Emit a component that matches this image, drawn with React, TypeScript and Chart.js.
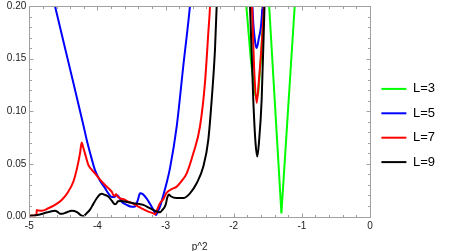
import React, { useEffect, useRef } from "react";
import { Chart, registerables } from "chart.js";

Chart.register(...registerables);

// ---------- data (p^2 on x, value on y) ----------
const SERIES_LABELS = ["L=3", "L=5", "L=7", "L=9"];

const L3_P = [-5, -2.5, -1.86, -1.815, -1.75, -1.69, -1.665, -1.64, -1.6, -1.56, -1.52, -1.48, -1.3, -1.105, -1.05, 0];
const L3_V = [1, 1, 0.3, 0.2, 0.15, 0.117, 0.112, 0.117, 0.15, 0.2, 0.3, 0.2, 0.003, 0.2, 0.3, 1];

const L5_P = [-5, -4.623, -4.42, -4.207, -4.158, -4.085, -4.036, -3.962, -3.889, -3.84, -3.79, -3.75, -3.717, -3.69, -3.644, -3.57, -3.497, -3.45, -3.41, -3.375, -3.33, -3.277, -3.204, -3.16, -3.14, -3.12, -3.082, -3.03, -2.984, -2.935, -2.837, -2.74, -2.642, -2.55, -2.2, -1.76, -1.725, -1.69, -1.663, -1.635, -1.58, -1.54, 0];
const L5_V = [0.31, 0.2, 0.145, 0.087, 0.073, 0.055, 0.044, 0.034, 0.027, 0.022, 0.0185, 0.0185, 0.0205, 0.019, 0.014, 0.011, 0.0093, 0.0095, 0.015, 0.022, 0.021, 0.017, 0.0093, 0.004, 0.0014, 0.004, 0.0093, 0.021, 0.032, 0.046, 0.0855, 0.143, 0.2, 0.27, 0.6, 0.3, 0.2, 0.168, 0.16, 0.168, 0.2, 0.3, 1];

const L7_P = [-5, -4.93, -4.895, -4.89, -4.87, -4.818, -4.72, -4.623, -4.525, -4.428, -4.354, -4.305, -4.256, -4.231, -4.215, -4.183, -4.134, -4.085, -4.036, -3.962, -3.889, -3.84, -3.791, -3.755, -3.725, -3.705, -3.669, -3.6, -3.547, -3.47, -3.4, -3.33, -3.254, -3.18, -3.155, -3.12, -3.082, -3.033, -2.984, -2.91, -2.837, -2.76, -2.69, -2.593, -2.495, -2.422, -2.373, -2.348, -2.3, -2.0, -1.77, -1.732, -1.7, -1.663, -1.63, -1.556, -1.5, 0];
const L7_V = [0.0008, 0.001, 0.0014, 0.0062, 0.0056, 0.0055, 0.0078, 0.011, 0.0157, 0.0236, 0.033, 0.0443, 0.06, 0.0703, 0.067, 0.06, 0.049, 0.0445, 0.041, 0.035, 0.03, 0.027, 0.0236, 0.0195, 0.0212, 0.019, 0.0173, 0.016, 0.014, 0.012, 0.0093, 0.007, 0.0046, 0.003, 0.002, 0.007, 0.0126, 0.0165, 0.0227, 0.026, 0.0284, 0.034, 0.041, 0.06, 0.0855, 0.127, 0.1745, 0.2, 0.3, 0.6, 0.3, 0.2, 0.14, 0.108, 0.13, 0.2, 0.3, 1];

const L9_P = [-5, -4.9, -4.818, -4.75, -4.696, -4.623, -4.58, -4.55, -4.52, -4.45, -4.378, -4.3, -4.25, -4.207, -4.16, -4.109, -4.06, -4.01, -3.962, -3.937, -3.89, -3.84, -3.79, -3.742, -3.72, -3.7, -3.645, -3.55, -3.474, -3.4, -3.327, -3.25, -3.18, -3.12, -3.082, -3.05, -3.0, -2.975, -2.955, -2.93, -2.84, -2.74, -2.642, -2.544, -2.446, -2.373, -2.323, -2.275, -2.25, -2.2, -2.0, -1.8, -1.761, -1.713, -1.68, -1.654, -1.63, -1.59, -1.548, -1.5, 0];
const L9_V = [0.0005, 0.0012, 0.0024, 0.0038, 0.0046, 0.0055, 0.0042, 0.0026, 0.0025, 0.004, 0.0055, 0.0042, 0.0015, 0.0002, 0.003, 0.0065, 0.012, 0.0173, 0.021, 0.0215, 0.0205, 0.019, 0.015, 0.0116, 0.0125, 0.0145, 0.0148, 0.0135, 0.0126, 0.012, 0.011, 0.0085, 0.0062, 0.0045, 0.004, 0.006, 0.011, 0.018, 0.021, 0.0195, 0.0175, 0.0175, 0.022, 0.0316, 0.0474, 0.0729, 0.111, 0.1586, 0.2, 0.3, 0.6, 0.3, 0.2, 0.111, 0.07, 0.057, 0.07, 0.111, 0.2, 0.3, 1];

const X_MIN = -5;
const X_MAX = 0;
const Y_MIN = 0;
const Y_MAX = 0.2;
const X_MAJOR = 1;
const X_MINOR = 0.2;
const Y_MAJOR = 0.05;
const Y_MINOR = 0.01;
const X_TITLE = "p^2";

// ---------- style ----------
const COLORS = ["#00ff00", "#0000ff", "#ff0000", "#000000"];
const FRAME = "#a0a0a0";
const FONT = "'Liberation Sans', Arial, sans-serif";

const frameTicks = {
  id: "frameTicks",
  afterDatasetsDraw(chart: any) {
    const { ctx, chartArea } = chart;
    const xs = chart.scales.x;
    const ys = chart.scales.y;
    const l = Math.round(chartArea.left) + 0.5;
    const r = Math.round(chartArea.right) + 0.5;
    const t = Math.round(chartArea.top) + 0.5;
    const b = Math.round(chartArea.bottom) + 0.5;
    ctx.save();
    ctx.strokeStyle = FRAME;
    ctx.lineWidth = 1;
    ctx.beginPath();
    ctx.rect(l, t, r - l, b - t);
    const nx = Math.round((X_MAX - X_MIN) / X_MINOR);
    const perX = Math.round(X_MAJOR / X_MINOR);
    for (let i = 0; i <= nx; i++) {
      const px = Math.round(xs.getPixelForValue(X_MIN + i * X_MINOR)) + 0.5;
      const len = i % perX === 0 ? 4 : 2.5;
      ctx.moveTo(px, b);
      ctx.lineTo(px, b - len);
      ctx.moveTo(px, t);
      ctx.lineTo(px, t + len);
    }
    const ny = Math.round((Y_MAX - Y_MIN) / Y_MINOR);
    const perY = Math.round(Y_MAJOR / Y_MINOR);
    for (let i = 0; i <= ny; i++) {
      const py = Math.round(ys.getPixelForValue(Y_MIN + i * Y_MINOR)) + 0.5;
      const len = i % perY === 0 ? 4 : 2.5;
      ctx.moveTo(l, py);
      ctx.lineTo(l + len, py);
      ctx.moveTo(r, py);
      ctx.lineTo(r - len, py);
    }
    ctx.stroke();
    ctx.restore();
  },
};

function makeDataset(i: number, P: number[], V: number[], straight: boolean) {
  return {
    label: SERIES_LABELS[i],
    data: P.map((p, k) => ({ x: p, y: V[k] })),
    borderColor: COLORS[i],
    backgroundColor: COLORS[i],
    borderWidth: 2,
    pointRadius: 0,
    pointHoverRadius: 0,
    fill: false,
    clip: 0,
    order: 4 - i,
    tension: 0,
    cubicInterpolationMode: straight ? "default" : "monotone",
  };
}

export default function App() {
  const ref = useRef<HTMLCanvasElement>(null);
  useEffect(() => {
    if (!ref.current) return;
    const chart = new Chart(ref.current, {
      type: "line",
      data: {
        datasets: [
          makeDataset(0, L3_P, L3_V, true),
          makeDataset(1, L5_P, L5_V, false),
          makeDataset(2, L7_P, L7_V, false),
          makeDataset(3, L9_P, L9_V, false),
        ] as any,
      },
      options: {
        responsive: false,
        animation: false,
        devicePixelRatio: 1,
        layout: { padding: { top: 0, right: 13.05, bottom: 0, left: 0 } },
        plugins: {
          tooltip: { enabled: false },
          legend: {
            position: "right",
            align: "center",
            labels: {
              usePointStyle: true,
              pointStyle: "line",
              pointStyleWidth: 25,
              boxHeight: 13,
              padding: 11.4,
              color: "#000",
              font: { family: FONT, size: 13 },
              sort: (a: any, b: any) => a.datasetIndex - b.datasetIndex,
            },
          },
        },
        scales: {
          x: {
            type: "linear",
            min: X_MIN,
            max: X_MAX,
            grid: { display: false, drawTicks: false },
            border: { display: false },
            ticks: {
              stepSize: X_MAJOR,
              padding: 4,
              color: "#222",
              font: { family: FONT, size: 10 },
            },
            title: {
              display: true,
              text: X_TITLE,
              color: "#222",
              font: { family: FONT, size: 10, lineHeight: 0.8 },
              padding: 0,
            },
            afterFit: (s: any) => {
              s.height = 34.5;
            },
          },
          y: {
            type: "linear",
            min: Y_MIN,
            max: Y_MAX,
            grid: { display: false, drawTicks: false },
            border: { display: false },
            ticks: {
              stepSize: Y_MAJOR,
              padding: 3,
              color: "#222",
              font: { family: FONT, size: 10 },
              callback: (v: any) => Number(v).toFixed(2),
            },
            afterFit: (s: any) => {
              s.width = 29.3;
              s.paddingTop = 6;
              s.paddingBottom = 6;
            },
          },
        },
      } as any,
      plugins: [frameTicks],
    });
    return () => chart.destroy();
  }, []);
  return (
    <div style={{ position: "fixed", left: 0, top: 0, width: 458, height: 251, background: "#fff" }}>
      <canvas ref={ref} width={458} height={251} style={{ display: "block" }} />
    </div>
  );
}
